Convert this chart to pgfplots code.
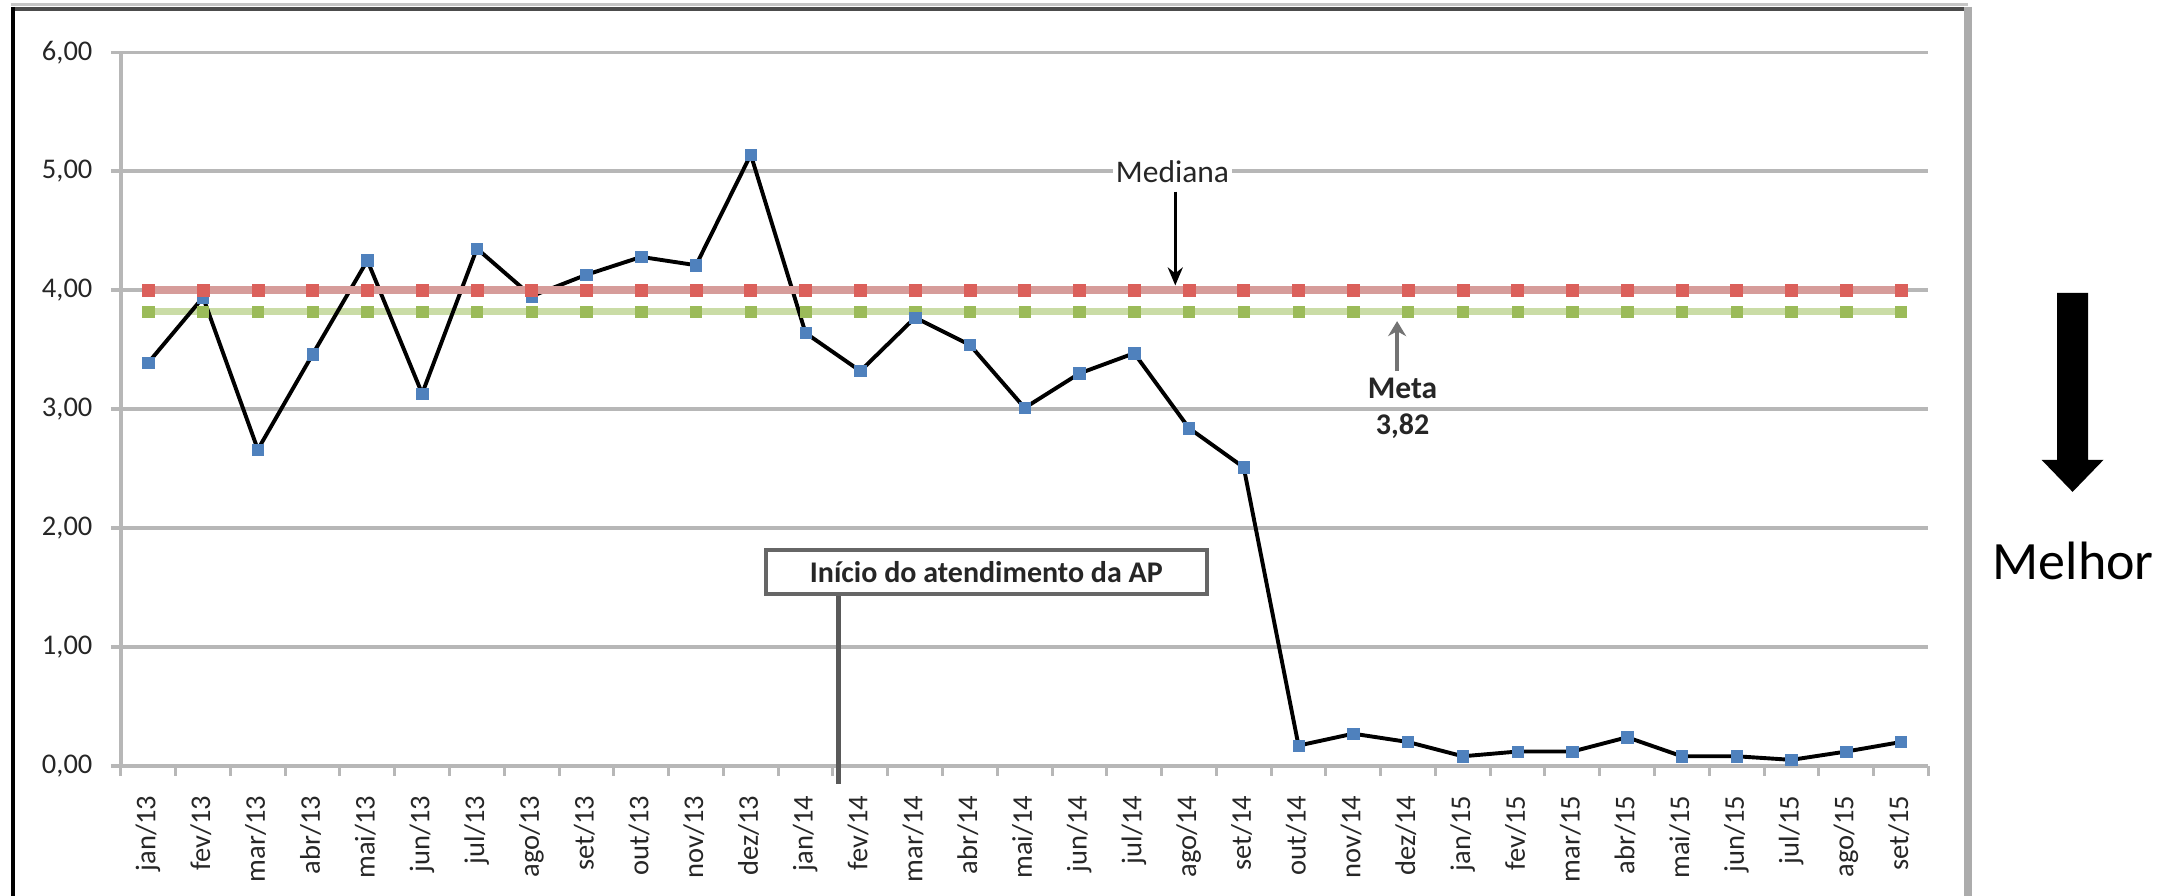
\documentclass[border=0pt]{standalone}
\usepackage{fontspec}
\setmainfont{Carlito}
\usepackage{pgfplots}
\pgfplotsset{compat=1.18}
\usetikzlibrary{arrows.meta}
\definecolor{gridgray}{HTML}{B7B7B7}
\definecolor{blueM}{HTML}{4F81BD}
\definecolor{medline}{HTML}{D69C9A}
\definecolor{medmark}{HTML}{DB605B}
\definecolor{metaline}{HTML}{CADCA6}
\definecolor{metamark}{HTML}{9BBB59}
\definecolor{txt}{HTML}{262626}

\pgfplotstableread{
x y
0 3.39
1 3.94
2 2.66
3 3.46
4 4.25
5 3.13
6 4.35
7 3.95
8 4.13
9 4.28
10 4.21
11 5.14
12 3.64
13 3.32
14 3.77
15 3.54
16 3.01
17 3.30
18 3.47
19 2.84
20 2.51
21 0.17
22 0.27
23 0.20
24 0.08
25 0.12
26 0.12
27 0.24
28 0.08
29 0.08
30 0.05
31 0.12
32 0.20
}\serie

\pgfplotstableread{
x y
0 4
1 4
2 4
3 4
4 4
5 4
6 4
7 4
8 4
9 4
10 4
11 4
12 4
13 4
14 4
15 4
16 4
17 4
18 4
19 4
20 4
21 4
22 4
23 4
24 4
25 4
26 4
27 4
28 4
29 4
30 4
31 4
32 4
}\mediana

\pgfplotstableread{
x y
0 3.82
1 3.82
2 3.82
3 3.82
4 3.82
5 3.82
6 3.82
7 3.82
8 3.82
9 3.82
10 3.82
11 3.82
12 3.82
13 3.82
14 3.82
15 3.82
16 3.82
17 3.82
18 3.82
19 3.82
20 3.82
21 3.82
22 3.82
23 3.82
24 3.82
25 3.82
26 3.82
27 3.82
28 3.82
29 3.82
30 3.82
31 3.82
32 3.82
}\meta

\begin{document}
\begin{tikzpicture}
% outer frame
\draw[gray!45, line width=1pt] (3.5pt,297.2pt) -- (656pt,297.2pt);
\draw[black!70, line width=1.5pt] (4.4pt,295.7pt) -- (656pt,295.7pt);
\draw[black, line width=1.3pt] (4.4pt,296.4pt) -- (4.4pt,-5pt);
\draw[gray!65, line width=2.6pt] (656pt,296.4pt) -- (656pt,-5pt);

\begin{axis}[
  at={(40.3pt,43.4pt)}, anchor=south west,
  scale only axis, width=602.5pt, height=237.8pt,
  xmin=-0.5, xmax=32.5, ymin=0, ymax=6,
  clip=false,
  axis lines=left,
  axis line style={-, draw=gridgray, line width=1.3pt},
  tick align=outside,
  major tick length=3.3pt,
  minor tick length=3.3pt,
  ytick={0,1,2,3,4,5,6},
  yticklabels={{0,00},{1,00},{2,00},{3,00},{4,00},{5,00},{6,00}},
  xtick={0,...,32},
  xticklabels={jan/13,fev/13,mar/13,abr/13,mai/13,jun/13,jul/13,ago/13,set/13,out/13,nov/13,dez/13,jan/14,fev/14,mar/14,abr/14,mai/14,jun/14,jul/14,ago/14,set/14,out/14,nov/14,dez/14,jan/15,fev/15,mar/15,abr/15,mai/15,jun/15,jul/15,ago/15,set/15},
  minor xtick={-0.5,0.5,...,32.5},
  major x tick style={draw=none},
  minor x tick style={draw=gridgray, line width=1pt},
  major y tick style={draw=gridgray, line width=1.2pt},
  ymajorgrids,
  major grid style={draw=gridgray, line width=1.2pt},
  yticklabel style={font=\fontsize{9.5}{11}\selectfont, text=txt, inner sep=0pt, xshift=-6pt},
  xticklabel style={font=\fontsize{9.5}{11}\selectfont, text=txt, yshift=-6.5pt, rotate=90, anchor=mid east, inner sep=0pt},
]
\addplot[draw=metaline, line width=2.4pt, mark=square*, mark size=1.9pt,
  mark options={solid, fill=metamark, draw=metamark, line width=0.2pt}] table[x=x,y=y] {\meta};
\addplot[draw=black, line width=1.3pt, mark=square*, mark size=1.9pt,
  mark options={solid, fill=blueM, draw=blueM, line width=0.2pt}] table[x=x,y=y] {\serie};
\addplot[draw=medline, line width=2.6pt, mark=square*, mark size=2pt,
  mark options={solid, fill=medmark, draw=medmark, line width=0.2pt}] table[x=x,y=y] {\mediana};

% Mediana
\node[font=\fontsize{10.5}{12}\selectfont, text=txt, fill=white, inner sep=1pt] at (axis cs:18.7,5) {Mediana};
\draw[-{Stealth[length=6pt,width=5pt]}, line width=1pt, black] (axis cs:18.75,4.83) -- (axis cs:18.75,4.04);
% Meta
\draw[-{Stealth[length=5pt,width=6pt]}, line width=1.5pt, black!55] (axis cs:22.8,3.32) -- (axis cs:22.8,3.74);
\node[font=\bfseries\fontsize{10.5}{12}\selectfont, text=txt] at (axis cs:22.9,3.17) {Meta};
\node[font=\bfseries\fontsize{10}{12}\selectfont, text=txt, fill=white, inner sep=0.5pt] at (axis cs:22.9,2.86) {3,82};
% Inicio box
\draw[black!65, line width=1.5pt] (axis cs:12.6,1.44) -- (axis cs:12.6,-0.15);
\node[draw=black!60, line width=1.4pt, fill=white, minimum width=147pt, minimum height=14.5pt, inner sep=0pt,
  font=\bfseries\fontsize{10}{12}\selectfont, text=txt] at (axis cs:15.3,1.63) {Início do atendimento da AP};
\end{axis}

% Melhor arrow
\fill[black] (685.7pt,201pt) -- (696pt,201pt) -- (696pt,145.4pt) -- (701.2pt,145.4pt) -- (690.85pt,134.7pt) -- (680.5pt,145.4pt) -- (685.7pt,145.4pt) -- cycle;
\node[anchor=base west, inner sep=0pt, font=\fontsize{18}{20}\selectfont, text=black] at (664pt,105.4pt) {Melhor};

\pgfresetboundingbox
\useasboundingbox (0,0) rectangle (720pt,298.67pt);
\end{tikzpicture}
\end{document}
